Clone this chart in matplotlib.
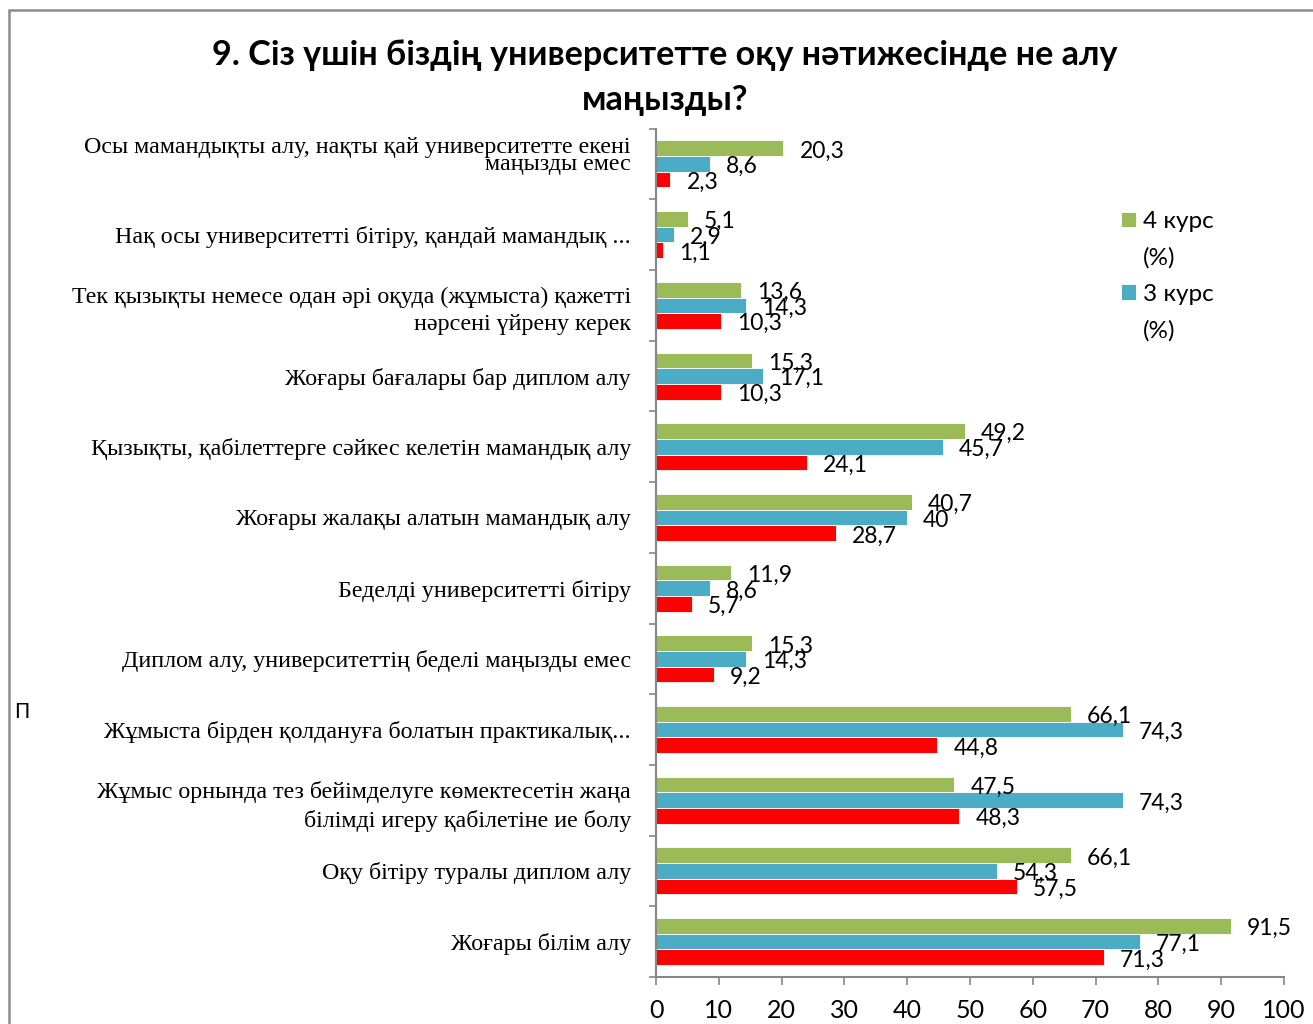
import matplotlib
matplotlib.use('Agg')
import matplotlib.pyplot as plt
import matplotlib.transforms as mtransforms
import numpy as np
from matplotlib.patches import Rectangle
from matplotlib.ticker import FixedLocator

# категориялар (жоғарыдан төмен қарай)
categories = [
    'Осы мамандықты алу, нақты қай университетте екені\nмаңызды емес',
    'Нақ осы университетті бітіру, қандай мамандық ...',
    'Тек қызықты немесе одан әрі оқуда (жұмыста) қажетті\nнәрсені үйрену керек',
    'Жоғары бағалары бар диплом алу',
    'Қызықты, қабілеттерге сәйкес келетін мамандық алу',
    'Жоғары жалақы алатын мамандық алу',
    'Беделді университетті бітіру',
    'Диплом алу, университеттің беделі маңызды емес',
    'Жұмыста бірден қолдануға болатын практикалық...',
    'Жұмыс орнында тез бейімделуге көмектесетін жаңа\nбілімді игеру қабілетіне ие болу',
    'Оқу бітіру туралы диплом алу',
    'Жоғары білім алу',
]
kurs4 = [20.3, 5.1, 13.6, 15.3, 49.2, 40.7, 11.9, 15.3, 66.1, 47.5, 66.1, 91.5]
kurs3 = [8.6, 2.9, 14.3, 17.1, 45.7, 40, 8.6, 14.3, 74.3, 74.3, 54.3, 77.1]
kurs_red = [2.3, 1.1, 10.3, 10.3, 24.1, 28.7, 5.7, 9.2, 44.8, 48.3, 57.5, 71.3]
series_names = ['4 курс', '3 курс']
xticks = list(range(0, 101, 10))

W, H = 1313, 1024
fig = plt.figure(figsize=(W / 100, H / 100), dpi=100)
ax = fig.add_axes([656 / W, (H - 977) / H, (1284 - 656) / W, (977 - 128.6) / H])

n = len(categories)
# верхняя категория сверху
y = np.arange(n)[::-1].astype(float)
h = 0.222

colors = ['#9BBB59', '#4BACC6', '#FF0000']
vals = [kurs4, kurs3, kurs_red]
offs = [h, 0, -h]
bars = []
for v, c, o in zip(vals, colors, offs):
    b = ax.barh(y + o, v, height=h, color=c, edgecolor='white', linewidth=0.6)
    bars.append(b)
    for yy, vv in zip(y + o, v):
        txt = ('%g' % vv).replace('.', ',')
        ax.annotate(txt, (vv, yy), xytext=(11.5, -2), textcoords='offset points',
                    va='center', ha='left', fontsize=16.5, family='Lato')

ax.set_xlim(0, 100)
ax.set_ylim(-0.5, n - 0.5)
ax.set_xticks(xticks)
ax.set_xticklabels([str(t) for t in xticks], fontsize=18, family='Lato')
ax.tick_params(axis='x', length=6, width=1.2, color='#868686', pad=10)

# подписи категорий (первую рисуем отдельно, она сдвинута вверх)
ax.set_yticks(y)
ax.set_yticklabels([''] + categories[1:], fontsize=17.3, family='Liberation Serif')
ax.tick_params(axis='y', which='major', length=0, pad=18)
for t in ax.get_yticklabels():
    t.set_linespacing(1.4)
first_tr = mtransforms.blended_transform_factory(ax.transAxes, ax.transData) + \
    mtransforms.ScaledTranslation(-25 / 100, 8 / 100, fig.dpi_scale_trans)
ax.text(0, y[0], categories[0], transform=first_tr, ha='right', va='center',
        fontsize=17.3, family='Liberation Serif', linespacing=0.7)
ax.yaxis.set_minor_locator(FixedLocator(np.arange(-0.5, n, 1.0)))
ax.tick_params(axis='y', which='minor', length=5, width=1.2, color='#868686')

for s in ['top', 'right']:
    ax.spines[s].set_visible(False)
for s in ['left', 'bottom']:
    ax.spines[s].set_color('#868686')
    ax.spines[s].set_linewidth(1.5)

fig.text(665 / W, 1 - 55 / H, '9. Сіз үшін біздің университетте оқу нәтижесінде не алу',
         ha='center', va='center', fontsize=24.6, fontweight='bold', family='Lato')
fig.text(665 / W, 1 - 100 / H, 'маңызды?',
         ha='center', va='center', fontsize=24.6, fontweight='bold', family='Lato')

# легенда: "(%)" отдельными строками без маркера
blank = Rectangle((0, 0), 1, 1, alpha=0)
leg = fig.legend([bars[0], blank, bars[1], blank],
                 [series_names[0], '(%)', series_names[1], '(%)'],
                 loc='upper left', bbox_to_anchor=(1121 / W, 1 - 211 / H), frameon=False,
                 prop={'family': 'Lato', 'size': 17.5}, handlelength=0.62,
                 handleheight=0.62, handletextpad=0.3, labelspacing=0.62,
                 borderaxespad=0, borderpad=0)

fig.text(14 / W, 1 - 712 / H, 'П', fontsize=15, family='Lato', va='center')

# рамка диаграммы
fig.patches.append(Rectangle((8.5 / W, -0.1), 1.2, 1.1 - 10 / H, transform=fig.transFigure,
                             fill=False, edgecolor='#8c8c8c', linewidth=1.8))

fig.savefig('out.png', dpi=100)
